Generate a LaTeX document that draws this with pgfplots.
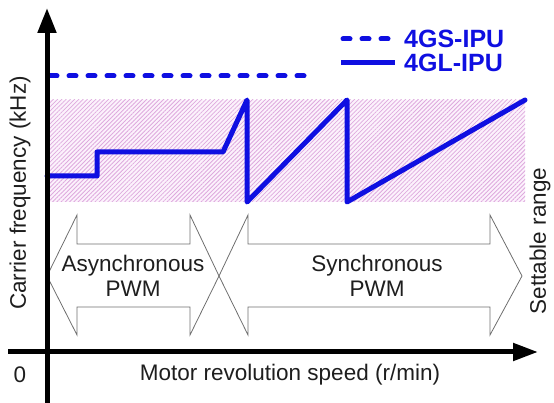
\documentclass[border=0pt]{standalone}
\usepackage{pgfplots}
\pgfplotsset{compat=1.18}
\usepackage{fontspec}
\setmainfont{Liberation Sans}
\usetikzlibrary{patterns.meta,arrows.meta}
\definecolor{lineblue}{RGB}{15,15,225}
\definecolor{hatchpink}{RGB}{222,170,222}
\definecolor{bgpink}{RGB}{252,242,252}
\definecolor{txt}{RGB}{30,30,30}
\definecolor{arrgray}{RGB}{110,110,110}
\begin{document}
\begin{tikzpicture}
\begin{axis}[
  width=554bp, height=403bp, scale only axis,
  xmin=-47, xmax=507, ymin=-51, ymax=352,
  hide axis, clip=false,
]
% settable range
\addplot[draw=none, fill=bgpink] coordinates {(0,150) (478,150) (478,252) (0,252)} -- cycle;
\addplot[draw=none, pattern={Lines[angle=45,distance=3bp,line width=0.8bp]}, pattern color=hatchpink] coordinates {(0,150) (478,150) (478,252) (0,252)} -- cycle;
% PWM arrows
\addplot[arrgray, line width=0.8bp] coordinates {(0,76) (30,137) (30,108) (143,108) (143,137) (172,76) (143,17) (143,45) (30,45) (30,17)} -- cycle;
\addplot[arrgray, line width=0.8bp] coordinates {(172,76) (201,137) (201,108) (443,108) (443,137) (475,76) (443,17) (443,45) (201,45) (201,17)} -- cycle;
% 4GS-IPU
\addplot[lineblue, line width=5bp, line cap=round, dash pattern=on 7bp off 12bp] coordinates {(3,276) (261,276)};
% 4GL-IPU
\addplot[lineblue, line width=5bp, line join=round, line cap=round] coordinates {(0,176) (50,176) (50,200) (176,200) (200,252) (200,150) (300,252) (300,150) (478,252)};
% axes
\draw[black, line width=5bp, -{Triangle[length=25bp,width=18bp]}] (axis cs:0,-51) -- (axis cs:0,344);
\draw[black, line width=5bp, -{Triangle[length=25bp,width=17bp]}] (axis cs:-39,0) -- (axis cs:491,0);
% legend
\draw[lineblue, line width=5bp, line cap=round, dash pattern=on 7bp off 12bp] (axis cs:296,313) -- (axis cs:346,313);
\draw[lineblue, line width=5bp] (axis cs:294,289) -- (axis cs:348,289);
\node[anchor=west, text=lineblue, font=\fontsize{25bp}{28bp}\selectfont\bfseries, inner sep=0pt] at (axis cs:357,313) {4GS-IPU};
\node[anchor=west, text=lineblue, font=\fontsize{25bp}{28bp}\selectfont\bfseries, inner sep=0pt] at (axis cs:357,289) {4GL-IPU};
% texts
\node[text=txt, align=center, font=\fontsize{22.5bp}{25bp}\selectfont, inner sep=0pt] at (axis cs:86,76) {Asynchronous\\PWM};
\node[text=txt, align=center, font=\fontsize{22.5bp}{25bp}\selectfont, inner sep=0pt] at (axis cs:330,76) {Synchronous\\PWM};
\node[text=txt, font=\fontsize{22.5bp}{25bp}\selectfont, inner sep=0pt] at (axis cs:-27,-23) {0};
\node[text=txt, font=\fontsize{22.5bp}{25bp}\selectfont, inner sep=0pt] at (axis cs:243,-23) {Motor revolution speed (r/min)};
\node[text=txt, rotate=90, font=\fontsize{22.5bp}{25bp}\selectfont, inner sep=0pt] at (axis cs:-27,159) {Carrier frequency (kHz)};
\node[text=txt, rotate=90, font=\fontsize{22.5bp}{25bp}\selectfont, inner sep=0pt] at (axis cs:493,111) {Settable range};
\end{axis}
\pgfresetboundingbox
\useasboundingbox (current axis.south west) rectangle (current axis.north east);
\end{tikzpicture}
\end{document}
